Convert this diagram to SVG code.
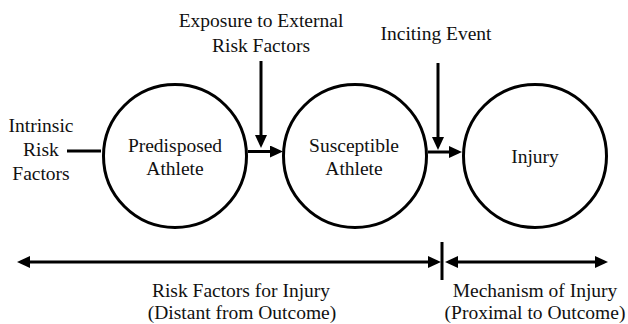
<svg xmlns="http://www.w3.org/2000/svg" width="628" height="324" viewBox="0 0 628 324">
<style>
text{font-family:'Liberation Serif','Times New Roman',Times,'DejaVu Serif',serif;font-size:19.5px;fill:#111;text-anchor:middle}
.node{fill:#fff;stroke:#000;stroke-width:3}
.ln{fill:none;stroke:#000;stroke-width:3}
.ar{marker-end:url(#ah)}
.dbl{marker-start:url(#ah);marker-end:url(#ah)}
</style>
<defs>
<marker id="ah" markerUnits="userSpaceOnUse" viewBox="0 0 13 12" refX="7" refY="6" markerWidth="13" markerHeight="12" orient="auto-start-reverse">
<path d="M0,0 L13,6 L0,12 Z" fill="#000"/>
</marker>
</defs>
<rect width="628" height="324" fill="#fff"/>
<g id="connectors">
<path class="ln" d="M67,151 H101"/>
<path class="ln ar" d="M248,151.5 H277"/>
<path class="ln ar" d="M428,152 H456"/>
<path class="ln ar" d="M261,61 V142"/>
<path class="ln ar" d="M438,63 V144"/>
<path class="ln dbl" d="M23,262 H435"/>
<path class="ln dbl" d="M451,262 H602"/>
<path class="ln" d="M442,242 V280"/>
</g>
<g id="predisposed">
<circle class="node" cx="175" cy="156" r="71.5"/>
<text x="175" y="152">Predisposed</text>
<text x="175" y="175">Athlete</text>
</g>
<g id="susceptible">
<circle class="node" cx="355" cy="156" r="71.5"/>
<text x="354" y="152">Susceptible</text>
<text x="354" y="175">Athlete</text>
</g>
<g id="injury">
<circle class="node" cx="535" cy="156" r="71.5"/>
<text x="535" y="163">Injury</text>
</g>
<g id="intrinsic">
<text x="41" y="132">Intrinsic</text>
<text x="41" y="156">Risk</text>
<text x="41" y="180">Factors</text>
</g>
<g id="exposure">
<text x="261" y="27">Exposure to External</text>
<text x="261" y="52">Risk Factors</text>
</g>
<g id="inciting">
<text x="436" y="40">Inciting Event</text>
</g>
<g id="risk-factors-label">
<text x="241" y="297">Risk Factors for Injury</text>
<text x="242" y="319">(Distant from Outcome)</text>
</g>
<g id="mechanism-label">
<text x="535" y="297">Mechanism of Injury</text>
<text x="535" y="319">(Proximal to Outcome)</text>
</g>
</svg>
